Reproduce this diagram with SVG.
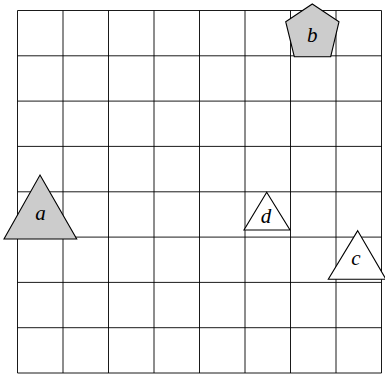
<svg xmlns="http://www.w3.org/2000/svg" width="385" height="374" viewBox="0 0 385 374">
<style>
.grid line{stroke:#000;stroke-width:0.9}
.shape{stroke:#000;stroke-width:1.1;stroke-linejoin:miter}
.gray{fill:#cccccc}
.white{fill:#ffffff}
.lbl{font-family:"Liberation Serif",serif;font-style:italic;font-size:21px;text-anchor:middle;fill:#000}
</style>
<rect width="385" height="374" fill="#fff"/>
<g id="grid" class="grid">
<line x1="17.5" y1="10.5" x2="17.5" y2="373"/>
<line x1="63" y1="10.5" x2="63" y2="373"/>
<line x1="108.5" y1="10.5" x2="108.5" y2="373"/>
<line x1="154" y1="10.5" x2="154" y2="373"/>
<line x1="199.5" y1="10.5" x2="199.5" y2="373"/>
<line x1="245" y1="10.5" x2="245" y2="373"/>
<line x1="290.5" y1="10.5" x2="290.5" y2="373"/>
<line x1="336" y1="10.5" x2="336" y2="373"/>
<line x1="381.5" y1="10.5" x2="381.5" y2="373"/>
<line x1="17.5" y1="10.5" x2="381.5" y2="10.5"/>
<line x1="17.5" y1="55.8" x2="381.5" y2="55.8"/>
<line x1="17.5" y1="101.1" x2="381.5" y2="101.1"/>
<line x1="17.5" y1="146.4" x2="381.5" y2="146.4"/>
<line x1="17.5" y1="191.8" x2="381.5" y2="191.8"/>
<line x1="17.5" y1="237.1" x2="381.5" y2="237.1"/>
<line x1="17.5" y1="282.4" x2="381.5" y2="282.4"/>
<line x1="17.5" y1="327.7" x2="381.5" y2="327.7"/>
<line x1="17.5" y1="373" x2="381.5" y2="373"/>
</g>
<g id="node-b">
<polygon class="shape gray" points="312.3,4 339,21.7 330.7,56.7 294.3,56.7 285.7,21.7"/>
<text class="lbl" x="312.3" y="41.5">b</text>
</g>
<g id="node-a">
<polygon class="shape gray" points="40,175 76.7,239 4,239"/>
<text class="lbl" x="40.5" y="220">a</text>
</g>
<g id="node-d">
<polygon class="shape white" points="266.7,192.3 290,230 244,230"/>
<text class="lbl" x="266" y="223">d</text>
</g>
<g id="node-c">
<polygon class="shape white" points="357.7,230.7 386,279.3 328.3,279.3"/>
<text class="lbl" x="356" y="265">c</text>
</g>
<g id="connectors"></g>
</svg>
